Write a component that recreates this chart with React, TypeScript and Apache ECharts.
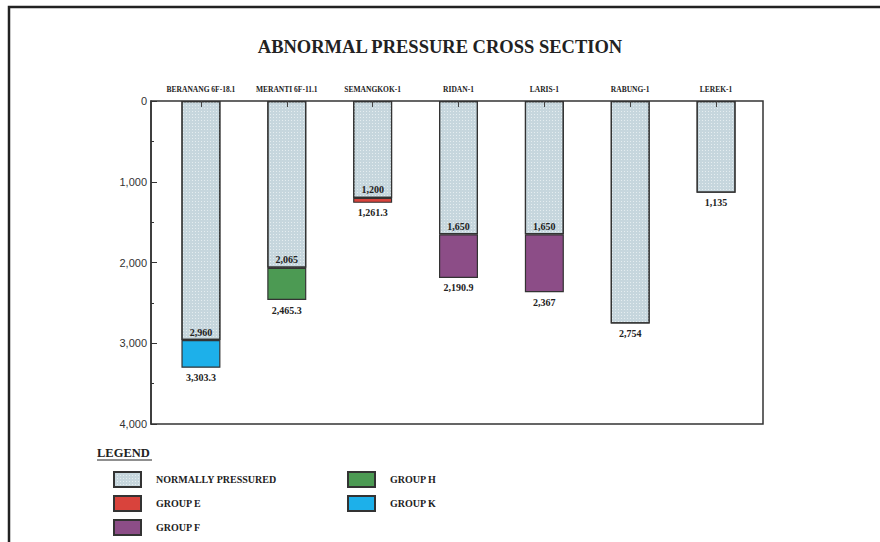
import React, { useEffect, useRef } from "react";
import * as echarts from "echarts";

const categories = [
  "BERANANG 6F-18.1",
  "MERANTI 6F-11.1",
  "SEMANGKOK-1",
  "RIDAN-1",
  "LARIS-1",
  "RABUNG-1",
  "LEREK-1",
];
// depth to top of abnormal pressure zone (base of normally pressured section)
const normalBase = [2960, 2065, 1200, 1650, 1650, 2754, 1135];
// total depth of each well
const totalDepth = [3303.3, 2465.3, 1261.3, 2190.9, 2367, 2754, 1135];
// which abnormal group each well ends in
const zoneGroup = ["GROUP K", "GROUP H", "GROUP E", "GROUP F", "GROUP F", "", ""];
const groupNames = ["GROUP E", "GROUP F", "GROUP H", "GROUP K"];
const groupColors: Record<string, string> = {
  "GROUP E": "#d9433c",
  "GROUP F": "#8c4d87",
  "GROUP H": "#4c9a53",
  "GROUP K": "#1db0ea",
};
const NORMAL = "NORMALLY PRESSURED";

const fmt = (v: number) => v.toLocaleString("en-US");
const serif = '"Liberation Serif", "Times New Roman", serif';

export default function App() {
  const ref = useRef<HTMLDivElement>(null);
  useEffect(() => {
    const chart = echarts.init(ref.current!, null, { renderer: "svg" });
    const labelBase = {
      fontFamily: serif,
      fontWeight: "bold" as const,
      fontSize: 10,
      color: "#222",
    };
    const normalSeries = {
      name: NORMAL,
      type: "bar",
      stack: "well",
      barWidth: 39,
      itemStyle: {
        color: "#c6d6dd",
        borderColor: "#333",
        borderWidth: 1.2,
        decal: {
          symbol: "rect",
          symbolSize: 1,
          color: "rgba(255,255,255,0.55)",
          dashArrayX: [1, 2],
          dashArrayY: [1, 2],
        },
      },
      data: normalBase.map((v, i) => ({
        value: v,
        label: zoneGroup[i]
          ? { show: true, position: "insideBottom", distance: 3, formatter: fmt(v), ...labelBase }
          : { show: true, position: "bottom", distance: 5, formatter: fmt(totalDepth[i]), ...labelBase },
      })),
    };
    const groupSeries = groupNames.map((g) => ({
      name: g,
      type: "bar",
      stack: "well",
      barWidth: 39,
      itemStyle: { color: groupColors[g], borderColor: "#333", borderWidth: 1.2 },
      data: normalBase.map((b, i) =>
        zoneGroup[i] === g
          ? {
              value: totalDepth[i] - b,
              label: { show: true, position: "bottom", distance: 5, formatter: fmt(totalDepth[i]), ...labelBase },
            }
          : "-"
      ),
    }));

    const legendCommon = {
      orient: "vertical",
      icon: "rect",
      itemWidth: 27,
      itemHeight: 15,
      itemGap: 7,
      padding: 0,
      height: 80,
      selectedMode: false,
      top: 471,
      textStyle: {
        fontFamily: serif,
        fontWeight: "bold",
        fontSize: 10,
        lineHeight: 15,
        color: "#222",
        padding: [0, 0, 0, 10],
      },
    };

    chart.setOption({
      animation: false,
      backgroundColor: "#fff",
      title: {
        text: "ABNORMAL PRESSURE CROSS SECTION",
        left: "center",
        top: 32,
        textStyle: { fontFamily: serif, fontWeight: "bold", fontSize: 18.5, color: "#222" },
      },
      legend: [
        { ...legendCommon, left: 113, data: [NORMAL, "GROUP E", "GROUP F"] },
        { ...legendCommon, left: 347, data: ["GROUP H", "GROUP K"] },
      ],
      grid: { left: 158, right: 121, top: 101, height: 323, containLabel: false },
      xAxis: {
        type: "category",
        position: "top",
        data: categories,
        z: 10,
        axisLine: { show: false },
        axisTick: { show: true, inside: true, length: 6, alignWithLabel: true, lineStyle: { color: "#444" } },
        axisLabel: {
          interval: 0,
          margin: 8,
          fontFamily: serif,
          fontWeight: "bold",
          fontSize: 7.5,
          color: "#222",
        },
      },
      yAxis: {
        type: "value",
        inverse: true,
        min: 0,
        max: 4000,
        interval: 1000,
        offset: 7,
        axisLine: { show: true, lineStyle: { color: "#333", width: 1.5 } },
        axisTick: { show: true, inside: true, length: 6, lineStyle: { color: "#333" } },
        minorTick: { show: true, splitNumber: 2, length: 3, lineStyle: { color: "#333" } },
        splitLine: { show: false },
        axisLabel: {
          formatter: (v: number) => fmt(v),
          margin: 4,
          fontFamily: '"Liberation Sans", Arial, sans-serif',
          fontSize: 11,
          color: "#333",
        },
      },
      graphic: [
        {
          type: "rect",
          z: 5,
          shape: { x: 151, y: 101, width: 612, height: 323 },
          style: { fill: "none", stroke: "#333", lineWidth: 1.5 },
        },
        {
          type: "rect",
          z: 5,
          shape: { x: 9, y: 7, width: 900, height: 600 },
          style: { fill: "none", stroke: "#222", lineWidth: 2.5 },
        },
        {
          type: "text",
          left: 97,
          top: 446,
          style: { text: "LEGEND", font: `bold 12.5px ${serif}`, fill: "#222" },
        },
        {
          type: "line",
          shape: { x1: 97, y1: 460, x2: 152, y2: 460 },
          style: { stroke: "#222", lineWidth: 1.2 },
        },
      ],
      series: [normalSeries, ...groupSeries],
    });
    return () => chart.dispose();
  }, []);
  return (
    <div
      ref={ref}
      style={{ position: "fixed", left: 0, top: 0, width: 880, height: 542 }}
    />
  );
}
